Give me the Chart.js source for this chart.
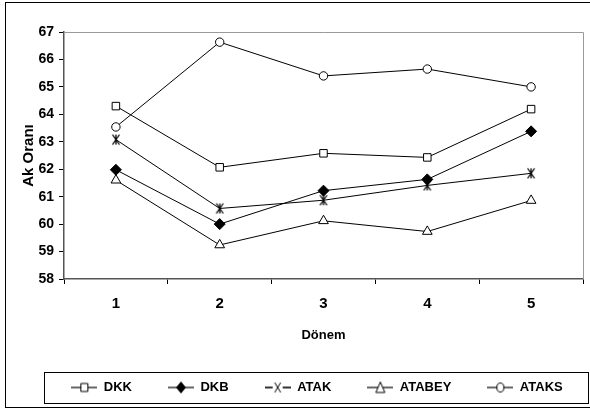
<!DOCTYPE html>
<html>
<head>
<meta charset="utf-8">
<script src="https://cdn.jsdelivr.net/npm/chart.js@4/dist/chart.umd.min.js"></script>
<style>
	html, body { margin: 0; padding: 0; background: #fff; }
	.frame { position: absolute; left: 5px; top: 2px; width: 600px; height: 406px; border: 1px solid #000; box-sizing: border-box; }
	.wrap { position: absolute; left: 0; top: 0; width: 590px; height: 412px; }
</style>
</head>
<body>
<div class="frame"></div>
<div class="wrap"><canvas class="ak-chart"></canvas></div>
<script>
let periods = ['1', '2', '3', '4', '5']
let seriesNames = ['DKK', 'DKB', 'ATAK', 'ATABEY', 'ATAKS']
let dkk = [64.3, 62.07, 62.58, 62.43, 64.19]
let dkb = [61.98, 60.0, 61.22, 61.63, 63.38]
let atak = [63.08, 60.57, 60.87, 61.41, 61.85]
let atabey = [61.6, 59.24, 60.12, 59.73, 60.86]
let ataks = [63.54, 66.63, 65.4, 65.65, 65.0]
let yMin = 58
let yMax = 67

let font = "'Liberation Sans', Arial, sans-serif"

// ATAK point marker: an x with a vertical bar through it
function makeCross() {
	let c = document.createElement('canvas')
	c.width = 10
	c.height = 12
	let g = c.getContext('2d')
	g.strokeStyle = '#000'
	g.lineWidth = 1.3
	g.beginPath()
	g.moveTo(1.5, 1)
	g.lineTo(8.5, 11)
	g.moveTo(8.5, 1)
	g.lineTo(1.5, 11)
	g.moveTo(5, 1)
	g.lineTo(5, 11)
	g.stroke()
	return c
}

// legend images: short line with the marker in the middle
function makeLegendMarker(shape) {
	let w = 26
	let c = document.createElement('canvas')
	c.width = w
	c.height = 14
	let g = c.getContext('2d')
	let cx = w / 2
	let cy = 7
	g.strokeStyle = '#000'
	g.lineWidth = 1.2
	g.beginPath()
	g.moveTo(0, cy)
	g.lineTo(w, cy)
	g.stroke()
	g.fillStyle = '#fff'
	g.lineWidth = 1
	g.beginPath()
	if (shape === 'rect') {
		g.rect(cx - 3.5, cy - 4, 7, 8)
		g.fill()
		g.stroke()
	} else if (shape === 'rectRot') {
		g.moveTo(cx, cy - 6)
		g.lineTo(cx + 5, cy)
		g.lineTo(cx, cy + 6)
		g.lineTo(cx - 5, cy)
		g.closePath()
		g.fillStyle = '#000'
		g.fill()
	} else if (shape === 'cross') {
		g.clearRect(cx - 5, 0, 10, 14)
		g.beginPath()
		g.moveTo(0, cy)
		g.lineTo(cx - 5, cy)
		g.moveTo(cx + 5, cy)
		g.lineTo(w, cy)
		g.moveTo(cx - 3, cy - 5)
		g.lineTo(cx + 3, cy + 5)
		g.moveTo(cx + 3, cy - 5)
		g.lineTo(cx - 3, cy + 5)
		g.stroke()
	} else if (shape === 'triangle') {
		g.moveTo(cx, cy - 5.5)
		g.lineTo(cx + 4.5, cy + 5)
		g.lineTo(cx - 4.5, cy + 5)
		g.closePath()
		g.fill()
		g.stroke()
	} else if (shape === 'circle') {
		g.ellipse(cx, cy, 3.5, 4.5, 0, 0, Math.PI * 2)
		g.fill()
		g.stroke()
	}
	return c
}

let shapes = ['rect', 'rectRot', 'cross', 'triangle', 'circle']
let radii = [5.3, 5.5, 6, 5.6, 4.2]
let legendMarkers = shapes.map(makeLegendMarker)
let crossImage = makeCross()

let values = [dkk, dkb, atak, atabey, ataks]
let datasets = values.map(function (v, i) {
	let style = shapes[i] === 'cross' ? crossImage : shapes[i]
	return {
		label: seriesNames[i],
		data: v,
		borderColor: '#000',
		borderWidth: 1,
		pointStyle: style,
		pointRadius: radii[i],
		pointBorderWidth: 1,
		pointBorderColor: '#000',
		pointBackgroundColor: shapes[i] === 'rectRot' ? '#000' : '#fff',
		tension: 0,
	}
})

// grey top/right border of the plot, legend shift and the legend box
let frames = {
	id: 'frames',
	afterLayout(chart) {
		chart.legend.left += 24
		chart.legend.right += 24
	},
	beforeDatasetsDraw(chart) {
		let a = chart.chartArea
		let ctx = chart.ctx
		ctx.save()
		ctx.strokeStyle = '#9a9a9a'
		ctx.lineWidth = 1
		ctx.beginPath()
		ctx.moveTo(a.left, Math.round(a.top) + 0.5)
		ctx.lineTo(Math.round(a.right) + 0.5, Math.round(a.top) + 0.5)
		ctx.lineTo(Math.round(a.right) + 0.5, a.bottom)
		ctx.stroke()
		ctx.restore()
	},
	afterDraw(chart) {
		let l = chart.legend
		let ctx = chart.ctx
		ctx.save()
		ctx.strokeStyle = '#000'
		ctx.lineWidth = 1
		ctx.strokeRect(44.5, Math.round(l.top) + 27.5, 544, 31)
		ctx.restore()
	},
}

let chart = new Chart(document.querySelector('.ak-chart'), {
	type: 'line',
	data: { labels: periods, datasets: datasets },
	options: {
		responsive: true,
		maintainAspectRatio: false,
		animation: false,
		color: '#000',
		layout: { padding: { top: 32, right: 4, bottom: 8, left: 0 } },
		scales: {
			x: {
				offset: true,
				grid: { offset: true, drawOnChartArea: false, color: '#000', tickLength: 5 },
				border: { color: '#555', width: 1.5 },
				ticks: { color: '#000', padding: 11, font: { family: font, size: 15, weight: 'bold' } },
				title: {
					display: true,
					text: 'Dönem',
					color: '#000',
					font: { family: font, size: 13, weight: 'bold' },
					padding: { top: 0, bottom: 2 },
				},
				afterFit: function (scale) {
					scale.height = 412 - 8 - scale.chart.legend.height - 279
				},
			},
			y: {
				min: yMin,
				max: yMax,
				ticks: { stepSize: 1, autoSkip: false, color: '#000', padding: 5, font: { family: font, size: 14, weight: 'bold' } },
				grid: { drawOnChartArea: false, color: '#000', tickLength: 5 },
				border: { color: '#555', width: 1.5 },
				title: {
					display: true,
					text: 'Ak Oranı',
					color: '#000',
					font: { family: font, size: 15, weight: 'bold' },
					padding: { top: 20, bottom: 0 },
				},
				afterFit: function (scale) {
					scale.width = 64
				},
			},
		},
		plugins: {
			tooltip: { enabled: false },
			legend: {
				position: 'bottom',
				labels: {
					usePointStyle: true,
					pointStyleWidth: 26,
					padding: 36,
					color: '#000',
					font: { family: font, size: 13, weight: 'bold' },
					generateLabels: function (chart) {
						return chart.data.datasets.map(function (ds, i) {
							return {
								text: ds.label,
								pointStyle: legendMarkers[i],
								fillStyle: '#fff',
								strokeStyle: '#fff',
								lineWidth: 0,
								hidden: false,
								datasetIndex: i,
								fontColor: '#000',
							}
						})
					},
				},
			},
		},
	},
	plugins: [frames],
})
</script>
</body>
</html>
